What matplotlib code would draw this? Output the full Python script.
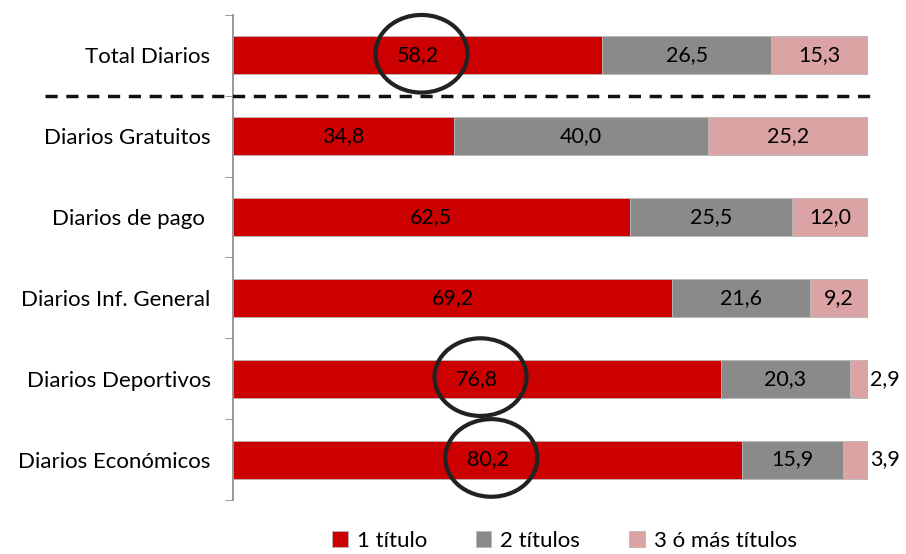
import matplotlib
matplotlib.use("Agg")
from matplotlib import pyplot as plt
from matplotlib.patches import Ellipse

categories = ["Total Diarios", "Diarios Gratuitos", "Diarios de pago ",
              "Diarios Inf. General", "Diarios Deportivos", "Diarios Económicos"]
uno = [58.2, 34.8, 62.5, 69.2, 76.8, 80.2]
dos = [26.5, 40.0, 25.5, 21.6, 20.3, 15.9]
tres = [15.3, 25.2, 12.0, 9.2, 2.9, 3.9]
series_names = ["1 título", "2 títulos", "3 ó más títulos"]
circled = [0, 4, 5]

colors = ["#cc0000", "#8a8a8a", "#dba3a3"]

plt.rcParams["font.family"] = ["Lato", "DejaVu Sans"]

fig = plt.figure(figsize=(9.06, 5.54), dpi=100)
ax = fig.add_axes([0.257, 0.0975, 0.701, 0.8755])

y = list(range(len(categories)))
left = [0.0] * len(categories)
for vals, col, name in zip([uno, dos, tres], colors, series_names):
    ax.barh(y, vals, left=left, height=0.47, color=col, label=name,
            edgecolor="#b8b8b8", linewidth=0.6)
    for i, v in enumerate(vals):
        txt = "{0:.1f}".format(v).replace(".", ",")
        if v < 5:
            ax.text(left[i] + v + 0.3, i, txt, ha="left", va="center",
                    fontsize=15.5, color="black")
        else:
            ax.text(left[i] + v / 2, i, txt, ha="center", va="center",
                    fontsize=15.5, color="black")
    left = [l + v for l, v in zip(left, vals)]

for i in circled:
    ax.add_patch(Ellipse((uno[i] / 2 + 0.6, i - 0.02), 14.5, 0.96,
                         fill=False, edgecolor="#222222", linewidth=3,
                         clip_on=False, zorder=5))

ax.set_xlim(0, 100)
ax.set_ylim(len(categories) - 0.5, -0.5)
ax.set_yticks(y)
ax.set_yticklabels(categories, fontsize=16)
ax.set_yticks([i - 0.5 for i in range(len(categories) + 1)], minor=True)
ax.tick_params(axis="y", which="major", length=0, pad=16)
ax.tick_params(axis="y", which="minor", length=6, color="#888888", direction="out")
ax.set_xticks([])
for s in ["top", "right", "bottom"]:
    ax.spines[s].set_visible(False)
ax.spines["left"].set_color("#888888")
ax.spines["left"].set_linewidth(1.2)

# dashed separator below the total
ax.plot([-29.5, 101], [0.5, 0.5], linestyle=(0, (3.5, 2.5)), color="#111111",
        linewidth=2.5, clip_on=False, zorder=4)

fig.legend(loc="lower center", bbox_to_anchor=(0.623, -0.03), ncol=3,
           frameon=False, fontsize=16, handlelength=0.7, handleheight=0.7,
           handletextpad=0.4, columnspacing=2.2)

fig.savefig("out.png", dpi=100)
